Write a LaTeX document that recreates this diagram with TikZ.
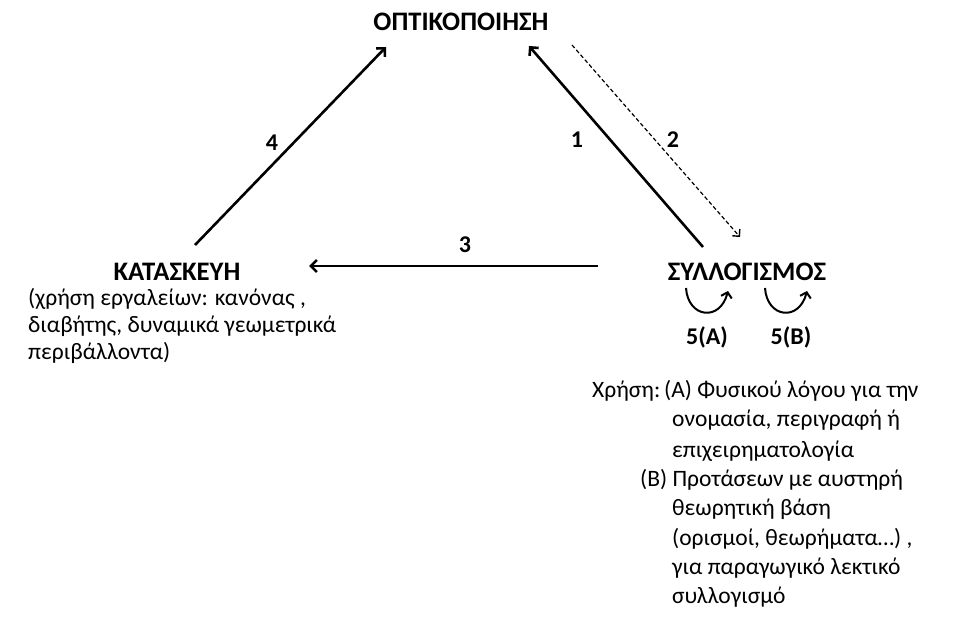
\documentclass[tikz,border=0pt]{standalone}
\usepackage{fontspec}
\setmainfont{Carlito}
\usetikzlibrary{arrows.meta}
\begin{document}
\begin{tikzpicture}[x=1pt,y=-1pt,
  title/.style={font=\fontsize{26.7}{32}\selectfont\bfseries, inner sep=0pt},
  num/.style={font=\fontsize{24}{29}\selectfont\bfseries, inner sep=0pt},
  note/.style={font=\fontsize{23.5}{29.3}\selectfont, inner sep=0pt, anchor=base west},
  link/.style={line width=2.6pt, -{Straight Barb[length=6pt,width=12pt,line width=2.6pt]}},
  hint/.style={line width=1.2pt, dash pattern=on 4pt off 2.5pt, -{Straight Barb[length=5pt,width=10pt,line width=1.4pt]}},
  loop/.style={line width=2pt, -{Straight Barb[length=5pt,width=11pt,line width=2pt]}}]
\useasboundingbox (0,0) rectangle (959,617);

% main stages
\node[title] (opt) at (461,22) {ΟΠΤΙΚΟΠΟΙΗΣΗ};
\node[title] (kat) at (177,272) {ΚΑΤΑΣΚΕΥΗ};
\node[title] (syl) at (747,272) {ΣΥΛΛΟΓΙΣΜΟΣ};

% connector end points
\coordinate (a4s) at (195,245);
\coordinate (a4e) at (386,47);
\coordinate (a1s) at (703,247);
\coordinate (a1e) at (529,46);
\coordinate (a2s) at (572,45);
\coordinate (a2e) at (740,237);
\coordinate (a3s) at (598,266);
\coordinate (a3e) at (309,266);

\draw[link] (a4s) -- (a4e);
\draw[link] (a1s) -- (a1e);
\draw[hint] (a2s) -- (a2e);
\draw[link] (a3s) -- (a3e);

\node[num] (n4) at (272,143) {4};
\node[num] (n1) at (577,140) {1};
\node[num] (n2) at (673,140) {2};
\node[num] (n3) at (465,245) {3};

% self-loops under the reasoning stage
\coordinate (la1) at (686,288);
\coordinate (la2) at (728,291);
\coordinate (lb1) at (765,288);
\coordinate (lb2) at (807,291);
\draw[loop] (la1) .. controls (688,318) and (720,322) .. (la2);
\draw[loop] (lb1) .. controls (767,318) and (799,322) .. (lb2);
\node[num] (l5a) at (707,337) {5(Α)};
\node[num] (l5b) at (791,337) {5(Β)};

% note on the construction tools
\node[note] (k1) at (28,306) {(χρήση εργαλείων: κανόνας ,};
\node[note] (k2) at (28,333) {διαβήτης, δυναμικά γεωμετρικά};
\node[note] (k3) at (28,360) {περιβάλλοντα)};

% note on the use of language
\node[note] (u0) at (592,398) {Χρήση:};
\node[note] (u1) at (664,398) {(Α) Φυσικού λόγου για την};
\node[note] (u2) at (672,427) {ονομασία, περιγραφή ή};
\node[note] (u3) at (672,457) {επιχειρηματολογία};
\node[note] (u4) at (640,486) {(Β) Προτάσεων με αυστηρή};
\node[note] (u5) at (672,515) {θεωρητική βάση};
\node[note] (u6) at (672,545) {(ορισμοί, θεωρήματα…) ,};
\node[note] (u7) at (672,574) {για παραγωγικό λεκτικό};
\node[note] (u8) at (672,603) {συλλογισμό};
\end{tikzpicture}
\end{document}
